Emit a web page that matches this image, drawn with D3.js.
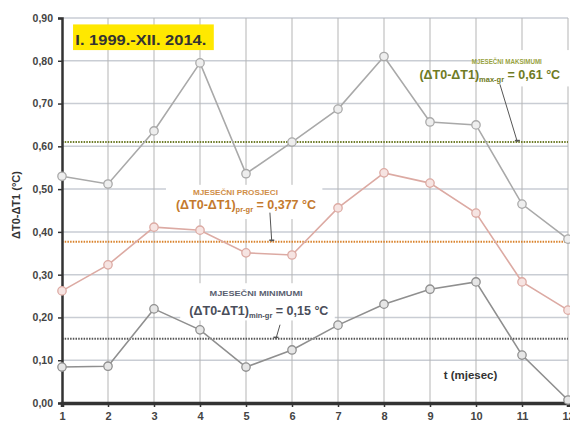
<!DOCTYPE html>
<html><head><meta charset="utf-8">
<script src="https://cdn.jsdelivr.net/npm/d3@7"></script>
<style>
html,body{margin:0;padding:0;background:#fff;}
svg{display:block;font-family:"Liberation Sans",Arial,sans-serif;}
</style></head>
<body>
<svg id="c" width="570" height="427"></svg>
<script>
const months = [1,2,3,4,5,6,7,8,9,10,11,12];
const maxVals  = [0.530,0.512,0.636,0.795,0.536,0.610,0.687,0.810,0.657,0.650,0.465,0.383];
const meanVals = [0.262,0.323,0.411,0.404,0.351,0.346,0.456,0.538,0.514,0.444,0.283,0.217];
const minVals  = [0.084,0.086,0.220,0.171,0.084,0.124,0.182,0.231,0.266,0.283,0.112,0.007];
const yTicks = [0,0.1,0.2,0.3,0.4,0.5,0.6,0.7,0.8,0.9];
const refMax = 0.61, refMean = 0.377, refMin = 0.15;
const titleText = "I. 1999.-XII. 2014.";
const yLabel = "ΔT0-ΔT1 (°C)";
const xLabel = "t (mjesec)";

const svg = d3.select("#c");
const x = d3.scaleLinear().domain([1,12]).range([62,568]);
const y = d3.scaleLinear().domain([0,0.9]).range([403,18]);

// gridlines
svg.append("g").selectAll("line").data(yTicks.slice(1)).join("line")
  .attr("x1",x(1)).attr("x2",x(12)).attr("y1",d=>y(d)).attr("y2",d=>y(d))
  .attr("stroke","#c9cdd4").attr("stroke-width",1.5);
svg.append("g").selectAll("line").data(months.slice(1)).join("line")
  .attr("x1",d=>x(d)).attr("x2",d=>x(d)).attr("y1",y(0)).attr("y2",y(0.9))
  .attr("stroke","#b5b5b5").attr("stroke-width",1);

// white label boxes
const boxes = [
  {x0:10.06,x1:12.1,v0:0.825,v1:0.74},
  {x0:3.26,x1:6.66,v0:0.51,v1:0.43},
  {x0:3.57,x1:6.93,v0:0.28,v1:0.193}
];
svg.append("g").selectAll("rect").data(boxes).join("rect")
  .attr("x",d=>x(d.x0)).attr("y",d=>y(d.v0))
  .attr("width",d=>x(d.x1)-x(d.x0)).attr("height",d=>y(d.v1)-y(d.v0))
  .attr("fill","#fff");

// reference lines
const refs = [
  {v:refMax,c:"#6f7d2a"},
  {v:refMean,c:"#d9822b"},
  {v:refMin,c:"#555"}
];
svg.append("g").selectAll("line").data(refs).join("line")
  .attr("x1",x(1)).attr("x2",x(12)).attr("y1",d=>y(d.v)).attr("y2",d=>y(d.v))
  .attr("stroke",d=>d.c).attr("stroke-width",2).attr("stroke-dasharray","1.5,1.2");

// axes
const yAxis = d3.axisLeft(y).tickValues(yTicks).tickSize(4).tickFormat(d=>d3.format(".2f")(d).replace(".",","));
const gy = svg.append("g").attr("transform",`translate(${x(1)},0)`).call(yAxis);
gy.select(".domain").attr("stroke","#333").attr("stroke-width",2.5);
gy.selectAll(".tick line").attr("stroke","#333").attr("stroke-width",1.5);
gy.selectAll(".tick text").attr("font-size",10.5).attr("font-weight","bold").attr("fill","#444")
  .attr("font-family","Liberation Sans, Arial, sans-serif").attr("x",-9);

const xAxis = d3.axisBottom(x).tickValues(months).tickSize(4).tickFormat(d3.format("d"));
const gx = svg.append("g").attr("transform",`translate(0,${y(0)})`).call(xAxis);
gx.select(".domain").attr("stroke","#333").attr("stroke-width",3.5);
gx.selectAll(".tick line").attr("stroke","#333").attr("stroke-width",1.5);
gx.selectAll(".tick text").attr("font-size",11).attr("font-weight","bold").attr("fill","#444")
  .attr("font-family","Liberation Sans, Arial, sans-serif").attr("dy","0.9em");

// series
const series = [
  {vals:maxVals,c:"#a9a9a9",fill:"#eeeeee"},
  {vals:meanVals,c:"#dcaaa3",fill:"#f6e4e2"},
  {vals:minVals,c:"#8f8f8f",fill:"#e6e6e6"}
];
const line = d3.line().x((d,i)=>x(months[i])).y(d=>y(d));
series.forEach(s=>{
  svg.append("path").datum(s.vals).attr("d",line).attr("fill","none")
    .attr("stroke",s.c).attr("stroke-width",1.6);
  svg.append("g").selectAll("circle").data(s.vals).join("circle")
    .attr("cx",(d,i)=>x(months[i])).attr("cy",d=>y(d)).attr("r",4.2)
    .attr("fill",s.fill).attr("stroke",s.c).attr("stroke-width",1.3);
});

// annotations
const notes = [
  {head:"MJESEČNI MAKSIMUMI",sub:"max-gr",val:" = 0,61 °C",hc:"#98a23e",fc:"#6f7b24",
   hx:10.67,hv:0.792,fx:10.3,fv:0.757,lx0:10.52,lv0:0.745,lx1:10.9,lv1:refMax,hl:70},
  {head:"MJESEČNI PROSJECI",sub:"pr-gr",val:" = 0,377 °C",hc:"#d08e48",fc:"#c47a2e",
   hx:4.77,hv:0.487,fx:5.0,fv:0.453,lx0:5.52,lv0:0.445,lx1:5.56,lv1:refMean,hl:85},
  {head:"MJESEČNI MINIMUMI",sub:"min-gr",val:" = 0,15 °C",hc:"#5a6070",fc:"#4a4e5a",
   hx:5.22,hv:0.250,fx:5.28,fv:0.206,lx0:5.74,lv0:0.183,lx1:5.65,lv1:refMin,hl:93}
];
notes.forEach(n=>{
  svg.append("text").attr("x",x(n.hx)).attr("y",y(n.hv)).attr("text-anchor","middle")
    .attr("font-size",8).attr("font-weight","bold").attr("fill",n.hc)
    .attr("textLength",n.hl).attr("lengthAdjust","spacingAndGlyphs").text(n.head);
  const t = svg.append("text").attr("x",x(n.fx)).attr("y",y(n.fv)).attr("text-anchor","middle")
    .attr("font-size",12.5).attr("font-weight","bold").attr("fill",n.fc);
  t.append("tspan").text("(ΔT0-ΔT1)");
  t.append("tspan").attr("font-size",7.5).attr("dy",3).text(n.sub);
  t.append("tspan").attr("dy",-3).text(n.val);
  svg.append("line").attr("x1",x(n.lx0)).attr("y1",y(n.lv0)).attr("x2",x(n.lx1)).attr("y2",y(n.lv1))
    .attr("stroke","#555").attr("stroke-width",1);
  svg.append("line").attr("x1",x(n.lx1)-2.5).attr("x2",x(n.lx1)+2.5).attr("y1",y(n.lv1)-1.5).attr("y2",y(n.lv1)-1.5)
    .attr("stroke","#555").attr("stroke-width",1.5);
});

// title box
const tb = svg.append("g");
tb.append("rect").attr("x",x(1.24)).attr("y",y(0.885)).attr("width",x(4.3)-x(1.24)).attr("height",y(0.825)-y(0.885))
  .attr("fill","#ffe800");
tb.append("text").attr("x",x(1.29)).attr("y",y(0.837)).attr("font-size",15).attr("font-weight","bold")
  .attr("fill","#333").attr("textLength",131).attr("lengthAdjust","spacingAndGlyphs").text(titleText);

// axis titles
svg.append("text").attr("transform",`translate(20,205) rotate(-90)`).attr("text-anchor","middle")
  .attr("font-size",11).attr("font-weight","bold").attr("fill","#333").text(yLabel);
svg.append("text").attr("x",x(9.88)).attr("y",y(0.055)).attr("text-anchor","middle")
  .attr("font-size",11.5).attr("font-weight","bold").attr("fill","#333").text(xLabel);
</script>
</body></html>
